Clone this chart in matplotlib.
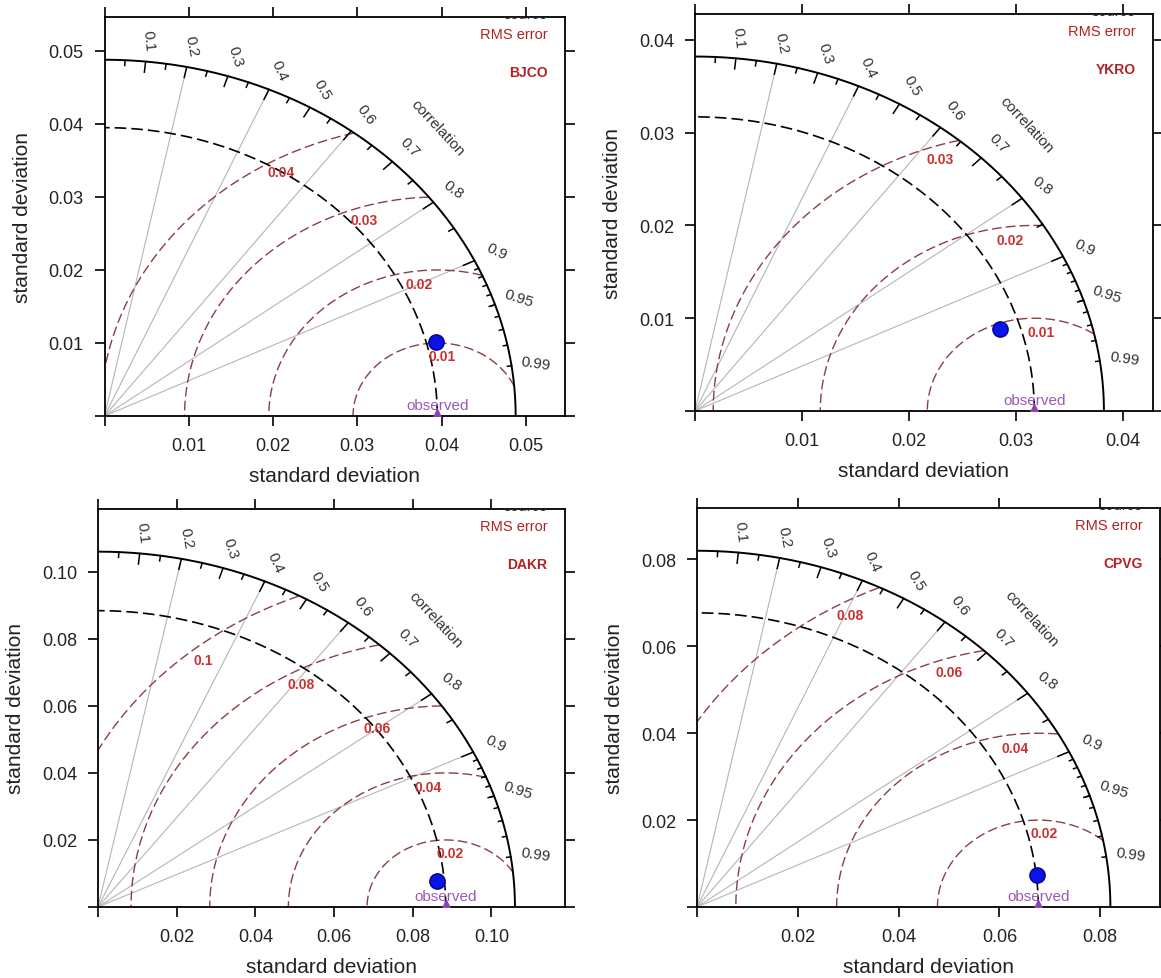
import numpy as np
import matplotlib.pyplot as plt

plt.rcParams['font.family'] = ['Liberation Sans', 'DejaVu Sans']

# values
stations = ['BJCO', 'YKRO', 'DAKR', 'CPVG']
obs_sd = [0.0395, 0.0317, 0.0884, 0.0677]
model_sd = [0.0406, 0.0298, 0.0864, 0.0679]
model_corr = [0.968, 0.955, 0.996, 0.994]
max_sd = [0.0488, 0.0382, 0.106, 0.082]
rms_levels = [[0.01, 0.02, 0.03, 0.04],
              [0.01, 0.02, 0.03],
              [0.02, 0.04, 0.06, 0.08, 0.1],
              [0.02, 0.04, 0.06, 0.08]]
sd_ticks = [[0.01, 0.02, 0.03, 0.04, 0.05],
            [0.01, 0.02, 0.03, 0.04],
            [0.02, 0.04, 0.06, 0.08, 0.10],
            [0.02, 0.04, 0.06, 0.08]]
corr_labels = [0.1, 0.2, 0.3, 0.4, 0.5, 0.6, 0.7, 0.8, 0.9, 0.95, 0.99]
grad_lines = [0.2, 0.4, 0.6, 0.8, 0.9]

# panel boxes in pixels (left, right, top, bottom)
W, H = 1161, 979
boxes = [(104.5, 565, 18, 417), (695, 1153, 15, 412),
         (98, 565, 510, 908), (697, 1160, 509, 908)]


def taylor(ax, i):
    ref = obs_sd[i]
    maxsd = max_sd[i]
    lim = 1.12 * maxsd
    ax.set_xlim(0, lim)
    ax.set_ylim(0, lim)

    # correlation grid lines
    for c in grad_lines:
        ax.plot([0, maxsd * c], [0, maxsd * np.sqrt(1 - c * c)],
                color='#b5b5b5', lw=0.8, zorder=1)

    # centred RMS difference contours
    t = np.linspace(0, np.pi, 800)
    for k, g in enumerate(rms_levels[i]):
        x = ref + g * np.cos(t)
        y = g * np.sin(t)
        m = (x >= 0) & (x * x + y * y <= maxsd * maxsd)
        ax.plot(x[m], y[m], color='#8b3f3f', lw=1.0, ls=(0, (7, 3)), zorder=2)
        a = np.radians(86 + 11 * k)
        r = g - 0.037 * maxsd
        ax.text(ref + r * np.cos(a), r * np.sin(a), '%g' % g, color='#c83232',
                fontsize=10, fontweight='bold', ha='center', va='center', zorder=5)

    # reference sd arc and outer arc
    q = np.linspace(0, np.pi / 2, 300)
    ax.plot(ref * np.cos(q), ref * np.sin(q), color='black', lw=1.2,
            ls=(0, (7, 3)), zorder=3)
    ax.plot(maxsd * np.cos(q), maxsd * np.sin(q), color='black', lw=1.4, zorder=3)

    # correlation ticks on the outer arc
    for vals, f in [(np.arange(0.1, 0.95, 0.1), 0.97),
                    (np.arange(0.05, 1.0, 0.1), 0.985),
                    (np.arange(0.91, 0.995, 0.01), 0.99)]:
        ang = np.arccos(vals)
        for a in ang:
            ax.plot([np.cos(a) * maxsd, np.cos(a) * f * maxsd],
                    [np.sin(a) * maxsd, np.sin(a) * f * maxsd],
                    color='black', lw=1.1, zorder=3)

    for c in corr_labels:
        a = np.arccos(c)
        ax.text(np.cos(a) * 1.06 * maxsd, np.sin(a) * 1.06 * maxsd, '%g' % c,
                rotation=-np.degrees(a), rotation_mode='anchor',
                ha='center', va='center', fontsize=11, color='#333333')
    ax.text(0.81 * maxsd, 0.81 * maxsd, 'correlation', rotation=-47,
            rotation_mode='anchor', ha='center', va='center',
            fontsize=11, color='#333333')

    # observed reference point
    ax.plot([ref], [0], marker='^', color='#8e44ad', ms=10, clip_on=True, zorder=6)
    ax.annotate('observed', (ref, 0), xytext=(0, 11), textcoords='offset pixels',
                ha='center', va='center', fontsize=11, color='#9b59b6', zorder=6)

    # model point
    a = np.arccos(model_corr[i])
    ax.plot([model_sd[i] * np.cos(a)], [model_sd[i] * np.sin(a)], marker='o',
            color='#0a14e6', mec='#00008b', ms=11, zorder=7)

    # legend-like labels at top right
    ax.text(0.962, 1.008, 'source', transform=ax.transAxes, ha='right',
            va='center', fontsize=10.5, color='#333333', clip_on=True)
    ax.text(0.962, 0.957, 'RMS error', transform=ax.transAxes, ha='right',
            va='center', fontsize=10.5, color='#b22222')
    ax.text(0.962, 0.862, stations[i], transform=ax.transAxes, ha='right',
            va='center', fontsize=10, fontweight='bold', color='#b22222')

    # axes
    ticks = [0] + sd_ticks[i]
    labels = [''] + ['%.2f' % v for v in sd_ticks[i]]
    ax.set_xticks(ticks)
    ax.set_xticklabels(labels)
    ax.set_yticks(ticks)
    ax.set_yticklabels(labels)
    ax.tick_params(top=True, right=True, direction='out', length=7, width=1.2,
                   pad=8, labelsize=13, labelcolor='#222222')
    for s in ax.spines.values():
        s.set_linewidth(1.3)

    l, r_, tp, b = boxes[i]
    ax.set_xlabel('standard deviation', fontsize=15, color='#222222', va='center')
    ax.set_ylabel('standard deviation', fontsize=15, color='#222222', va='center')
    ax.xaxis.set_label_coords(0.5, -60.0 / (b - tp))
    ax.yaxis.set_label_coords(-82.0 / (r_ - l), 0.5)


fig = plt.figure(figsize=(W / 100, H / 100), dpi=100)
for i in range(4):
    l, r, tp, b = boxes[i]
    ax = fig.add_axes([l / W, 1 - b / H, (r - l) / W, (b - tp) / H])
    taylor(ax, i)

fig.savefig('out.png', dpi=100)
